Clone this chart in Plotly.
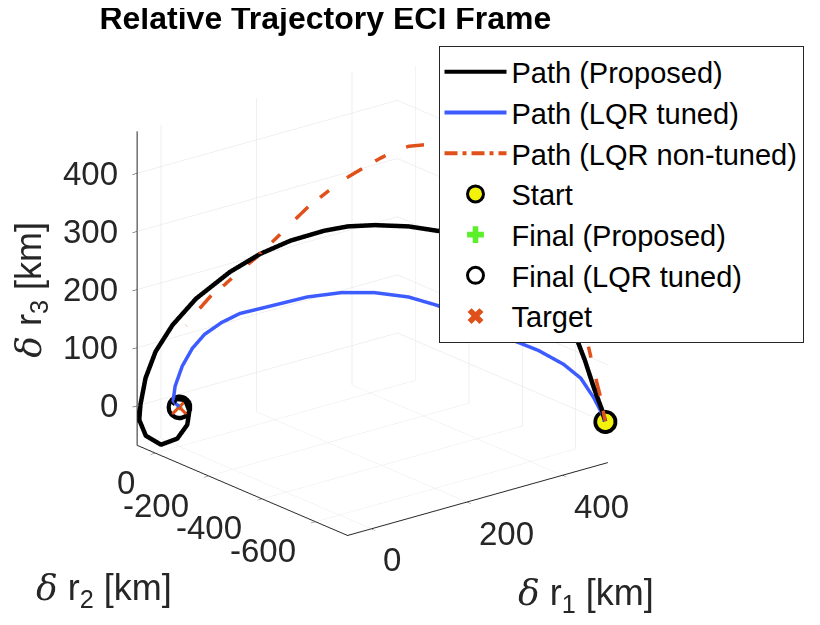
import plotly.graph_objects as go

# trajectory samples [km]
black_r1 = [491, 487.5, 478.2, 467.7, 457.2, 443.2, 419.9, 387.2, 344.0, 297.4, 264.4, 225.4, 194.4, 167.1,
            128.3, 93.3, 58.3, 19.5, -7.8, -27.2, -38.8, -44.7, -46.1, -38.5, -21.0, -2.3, 9.3, 11.7, 7.0,
            -3.5, -9.3, -4.7, 0]
black_r2 = [-717, -711.9, -698.3, -682.9, -667.6, -647.2, -613.1, -565.4, -502.4, -434.3, -386.1, -329.2,
            -283.9, -244.1, -187.3, -136.2, -85.2, -28.4, 11.4, 39.7, 56.7, 65.2, 67.3, 56.2, 30.7, 3.4,
            -13.6, -17.0, -10.2, 5.1, 13.6, 6.8, 0]
black_r3 = [3, 22.5, 59.6, 106.9, 147.3, 202.9, 258.0, 297.2, 315.3, 320.0, 325.6, 325.6, 321.6, 312.6,
            293.3, 268.5, 235.3, 187.4, 140.2, 93.7, 47.4, 1.4, -24.8, -51.8, -66.2, -54.8, -30.2, -6.2,
            12.4, 13.5, 1.2, -8.8, 0]

blue_r1 = [491, 487.5, 478.2, 463.0, 443.2, 414.0, 379.1, 338.2, 297.4, 264.4, 225.4, 186.6, 147.8, 108.8,
           70.0, 49.0, 29.2, 15.2, 3.5, -4.7, -7.0, 0]
blue_r2 = [-717, -711.9, -698.3, -676.1, -647.2, -604.6, -553.5, -493.9, -434.3, -386.1, -329.2, -272.5,
           -215.8, -158.9, -102.2, -71.6, -42.6, -22.2, -5.1, 6.8, 10.2, 0]
blue_r3 = [3, 15.7, 42.5, 75.8, 98.6, 120.9, 139.5, 166.2, 191.7, 204.2, 209.4, 207.2, 197.6, 181.0,
           164.7, 148.1, 126.4, 101.7, 70.3, 35.6, 9.9, 0]

red_r1 = [491, 486.0, 480.2, 471.4, 460.7, 443.2, 419.9, 390.7, 361.5, 328.9, 297.4, 264.4, 244.9, 225.4,
          206.1, 186.6, 167.1, 147.8, 128.3, 108.8, 89.5, 70.0, 52.5, 38.8, 19.5, 7.8]
red_r2 = [-717, -709.7, -701.2, -688.4, -672.7, -647.2, -613.1, -570.5, -527.9, -480.2, -434.3, -386.1,
          -357.6, -329.2, -300.9, -272.5, -244.1, -215.8, -187.3, -158.9, -130.6, -102.2, -76.6, -56.7,
          -28.4, -11.4]
red_r3 = [3, 43.0, 76.8, 133.2, 186.8, 262.8, 338.4, 405.1, 446.2, 466.5, 469.9, 463.4, 452.0, 435.5,
          417.3, 399.1, 375.3, 351.5, 321.8, 292.2, 262.7, 238.2, 213.2, 197.1, 163.5, 140.6]

start_pt = [491, -717, 3]
final_pt = [0, 0, 0]
target_pt = [0, 0, 0]

r1_range = [-50, 495]
r2_range = [-720, 68]
r3_range = [-68, 472]
r1_ticks = [0, 200, 400]
r2_ticks = [-600, -400, -200, 0]
r3_ticks = [0, 100, 200, 300, 400]

BLACK = '#000000'
BLUE = '#3d5cff'
RED = '#e0501a'
GREEN = '#5cf02a'
YELLOW = '#f2f20a'
AX = '#262626'

fig = go.Figure()


def point(p, **kw):
    return go.Scatter3d(x=[p[0]], y=[p[1]], z=[p[2]], mode='markers', showlegend=False, **kw)


def legend_entry(name, rank, **kw):
    # data-less 2D trace: gives the legend its own (thinner / bigger) symbol
    return go.Scatter(x=[None], y=[None], name=name, legendrank=rank, showlegend=True,
                      hoverinfo='skip', **kw)


fig.add_trace(go.Scatter3d(x=black_r1, y=black_r2, z=black_r3, mode='lines', showlegend=False,
                           line=dict(color=BLACK, width=9)))
fig.add_trace(go.Scatter3d(x=blue_r1, y=blue_r2, z=blue_r3, mode='lines', showlegend=False,
                           line=dict(color=BLUE, width=7)))
fig.add_trace(go.Scatter3d(x=red_r1, y=red_r2, z=red_r3, mode='lines', showlegend=False,
                           line=dict(color=RED, width=7, dash='longdashdot')))

# start marker: black ring under a yellow disc
fig.add_trace(point(start_pt, marker=dict(symbol='circle', size=14, color=BLACK)))
fig.add_trace(point(start_pt, marker=dict(symbol='circle', size=9.5, color=YELLOW)))

# final point: thick black ring with the green cross and red x inside
fig.add_trace(point(final_pt, marker=dict(symbol='circle', size=15, color=BLACK)))
fig.add_trace(point(final_pt, marker=dict(symbol='circle', size=10, color='white')))
fig.add_trace(point(final_pt, marker=dict(symbol='cross', size=4, color=GREEN)))
fig.add_trace(point(target_pt, marker=dict(symbol='x', size=3.5, color=RED)))

fig.add_trace(legend_entry('Path (Proposed)', 1, mode='lines', line=dict(color=BLACK, width=4)))
fig.add_trace(legend_entry('Path (LQR tuned)', 2, mode='lines', line=dict(color=BLUE, width=4)))
fig.add_trace(legend_entry('Path (LQR non-tuned)', 3, mode='lines',
                           line=dict(color=RED, width=4, dash='13px,5px,4px,5px')))
fig.add_trace(legend_entry('Start', 4, mode='markers',
                           marker=dict(symbol='circle', size=16, color=YELLOW, line=dict(color=BLACK, width=3))))
fig.add_trace(legend_entry('Final (Proposed)', 5, mode='markers',
                           marker=dict(symbol='cross', size=14, color=GREEN, line=dict(width=0))))
fig.add_trace(legend_entry('Final (LQR tuned)', 6, mode='markers',
                           marker=dict(symbol='circle-open', size=16, color=BLACK, line=dict(width=3))))
fig.add_trace(legend_entry('Target', 7, mode='markers',
                           marker=dict(symbol='x', size=14, color=RED, line=dict(width=0))))

axis_style = dict(showbackground=False, gridcolor='#e2e2e2', gridwidth=1, showline=True,
                  linecolor=AX, linewidth=2, ticks='outside', ticklen=6, tickcolor=AX,
                  showticklabels=False, title=dict(text=''), zeroline=False, showspikes=False)

# tick labels and axis titles as scene annotations (data coordinates)
ann = []
for v in r1_ticks:
    ann.append(dict(x=v, y=r2_range[0], z=r3_range[0], text=str(v), showarrow=False,
                    xanchor='left', yanchor='middle', xshift=10, yshift=-31))
for v in r2_ticks:
    ann.append(dict(x=r1_range[0], y=v, z=r3_range[0], text=str(v), showarrow=False,
                    xanchor='right', yanchor='middle', xshift=-18, yshift=-29))
for v in r3_ticks:
    ann.append(dict(x=r1_range[0], y=r2_range[1], z=v, text=str(v), showarrow=False,
                    xanchor='right', yanchor='middle', xshift=-17))
delta = "<span style='font-family:DejaVu Serif'><i>δ</i></span>"
lab_font = dict(size=36)
ann.append(dict(x=sum(r1_range) / 2, y=r2_range[0], z=r3_range[0], showarrow=False, font=lab_font,
                text=delta + ' r<sub>1</sub> [km]', xshift=108, yshift=-96))
ann.append(dict(x=r1_range[0], y=-330, z=r3_range[0], showarrow=False, font=lab_font,
                text=delta + ' r<sub>2</sub> [km]', xshift=-139, yshift=-99))
ann.append(dict(x=r1_range[0], y=r2_range[1], z=200, showarrow=False, textangle=-90, font=lab_font,
                text=delta + ' r<sub>3</sub> [km]', xshift=-107))

fig.update_layout(
    width=820, height=625,
    margin=dict(l=0, r=0, t=0, b=0),
    paper_bgcolor='white',
    plot_bgcolor='rgba(0,0,0,0)',
    font=dict(family='Liberation Sans, Arial, sans-serif', size=33, color=AX),
    title=dict(text='Relative Trajectory ECI Frame', x=0.387, xanchor='center',
               yref='container', y=0.967, yanchor='bottom', pad=dict(t=0, b=0),
               font=dict(size=32, color='black', weight='bold')),
    hovermode=False,
    xaxis=dict(visible=False),
    yaxis=dict(visible=False),
    scene=dict(
        domain=dict(x=[0, 0.889], y=[0.075, 1.0]),
        xaxis=dict(range=r1_range, tickvals=r1_ticks, **axis_style),
        yaxis=dict(range=r2_range, tickvals=r2_ticks, **axis_style),
        zaxis=dict(range=r3_range, tickvals=r3_ticks, **axis_style),
        aspectmode='manual',
        aspectratio=dict(x=1.158, y=1.158, z=1.158),
        camera=dict(eye=dict(x=-1.085, y=-1.342, z=0.637), up=dict(x=0, y=0, z=1),
                    center=dict(x=0, y=0, z=0), projection=dict(type='orthographic')),
        annotations=ann,
    ),
    legend=dict(x=0.525, y=0.94, xanchor='left', yanchor='top', bgcolor='white',
                bordercolor=AX, borderwidth=1, itemwidth=62,
                font=dict(size=29, color='black')),
)

fig.write_html("out.html")
